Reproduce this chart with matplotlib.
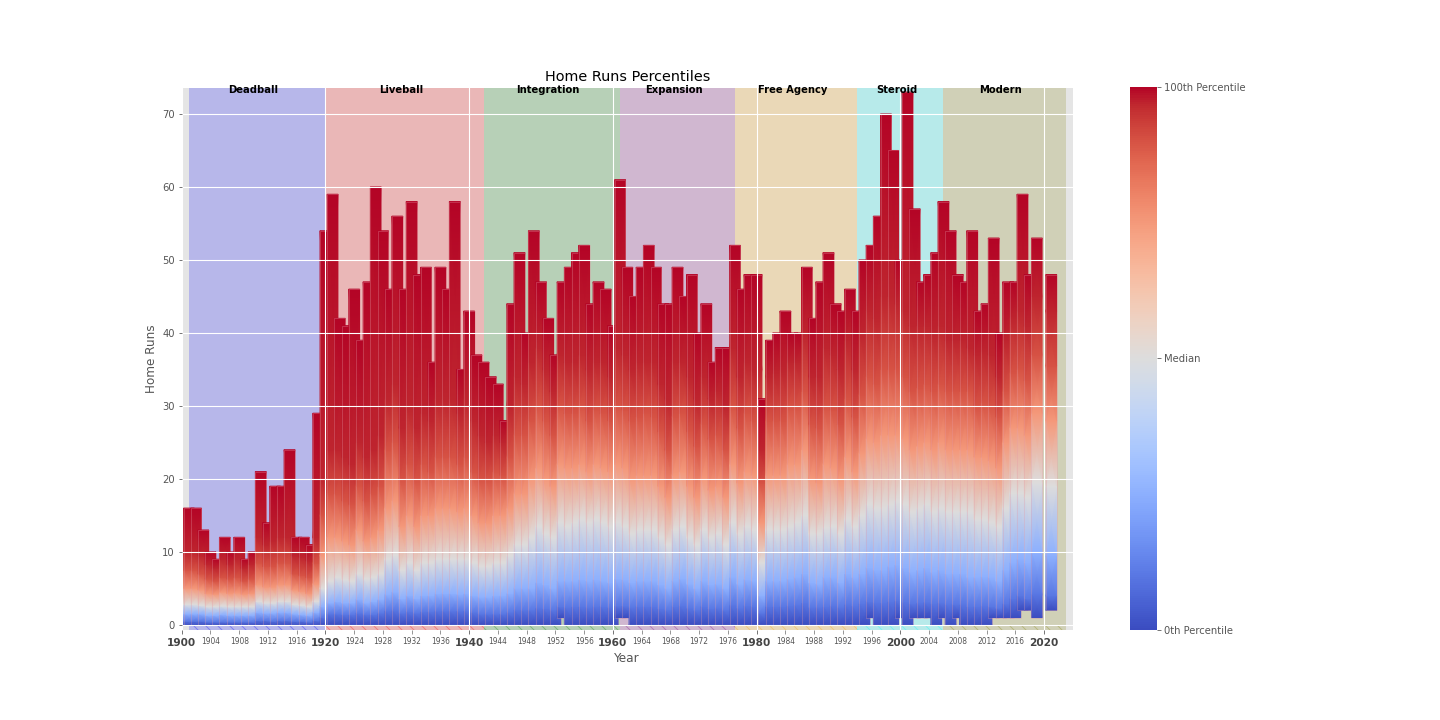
import numpy as np
import matplotlib
matplotlib.use("Agg")
import matplotlib.pyplot as plt
from matplotlib.colors import Normalize, to_rgba
from matplotlib.cm import ScalarMappable

plt.style.use("ggplot")

# seasons shown (2020 is missing in the chart)
years = list(range(1901, 2020)) + [2021]

# percentile levels drawn for every season
levels = [0, 10, 25, 50, 75, 90, 97, 100]

p100 = [16, 16, 13, 10, 9, 12, 10, 12, 9, 10, 21, 14, 19, 19, 24, 12, 12, 11, 29, 54,
        59, 42, 41, 46, 39, 47, 60, 54, 46, 56, 46, 58, 48, 49, 36, 49, 46, 58, 35, 43,
        37, 36, 34, 33, 28, 44, 51, 40, 54, 47, 42, 37, 47, 49, 51, 52, 44, 47, 46, 41,
        61, 49, 45, 49, 52, 49, 44, 44, 49, 45, 48, 40, 44, 36, 38, 38, 52, 46, 48, 48,
        31, 39, 40, 43, 40, 40, 49, 42, 47, 51, 44, 43, 46, 43, 50, 52, 56, 70, 65, 50,
        73, 57, 47, 48, 51, 58, 54, 48, 47, 54, 43, 44, 53, 40, 47, 47, 59, 48, 53, 48]

p97 = [10, 10, 9.5, 8.3, 7.8, 9, 8.3, 9, 7.8, 8.3, 12, 11, 11.5, 12, 12, 9.5, 9.3, 8.8, 12, 20,
       24, 24, 23, 22, 25, 23, 24, 26, 31, 33, 27, 30, 27, 29, 28, 31, 31, 31, 29, 31,
       28, 26, 25, 26, 25, 30, 34, 33, 36, 38, 35, 32, 37, 36, 36, 37, 35, 36, 36, 34,
       38, 37, 35, 36, 36, 36, 33, 31, 36, 36, 34, 31, 34, 31, 32, 30, 38, 34, 36, 35,
       24, 34, 34.5, 35, 36, 36, 40, 34, 34, 38, 37, 35, 39, 35, 40, 43, 42, 45, 45, 44,
       43, 41, 41, 41, 40, 41, 39, 39, 39, 38, 37, 37.5, 37, 34, 39, 42, 43, 41, 45, 43]

p90 = [7.5, 7.5, 7, 6.3, 6, 6.5, 6.3, 6.5, 6, 6.3, 8.5, 8, 8, 8.5, 8.5, 7, 6.8, 6.5, 8.5, 15,
       18, 18, 17, 16.5, 19, 17, 18, 19, 24, 25, 20, 22, 20, 22, 21, 23, 23, 23, 22, 23,
       21, 20, 20, 21, 20.5, 23, 26, 26, 28, 30, 28, 26, 30, 29, 29, 30, 28, 29.5, 29, 28,
       30, 29.5, 28, 28.5, 29, 28.5, 26.5, 24, 28.5, 29, 26.5, 24.5, 27.5, 25.5, 26, 24, 30, 27, 29, 28,
       19.5, 28, 28, 28, 30, 30, 32, 27.5, 27, 30, 29.5, 27.5, 31, 28.5, 31.5, 34, 33, 35, 35, 35,
       34, 32, 32.5, 33, 32, 33, 32, 32, 32, 32, 30, 30.5, 30, 28.5, 32, 34.5, 35, 33.5, 37, 35.5]

p75 = [5, 5, 4.8, 4.3, 4.2, 4.5, 4.3, 4.4, 4.2, 4.3, 5.5, 5.2, 5.2, 5.5, 5.5, 4.8, 4.6, 4.3, 5.6, 9.5,
       12, 12, 11.5, 11, 13, 11.5, 12, 13, 16, 17, 13.5, 15, 13.5, 15, 15, 16, 16, 16, 15.5, 16,
       15, 14, 14, 15, 15, 16, 18, 18, 20, 21.5, 20, 19, 22, 21.5, 21.5, 22, 21, 22, 21.5, 21,
       22, 21.5, 20, 20.5, 20.5, 20.5, 19, 17.5, 20.5, 21, 19, 17.5, 20, 18.5, 19, 17.5, 22, 19.5, 21, 20.5,
       14, 20.5, 20.5, 20.5, 22, 22, 24, 20, 19.5, 22, 21.5, 20, 23, 21, 23.5, 25.5, 25, 26, 26, 26,
       25.5, 24, 24.5, 25, 24, 25, 24, 24, 24, 24, 23, 23, 22.5, 21.5, 25, 27, 27, 26, 29, 28]

p50 = [2.8, 2.8, 2.7, 2.5, 2.5, 2.6, 2.5, 2.5, 2.5, 2.5, 3.2, 3, 3, 3.2, 3.2, 2.8, 2.7, 2.5, 3.2, 5,
       6, 6.5, 6.2, 6, 7, 6.3, 6.5, 7, 9, 9.5, 7.5, 8.5, 7.5, 8.5, 8.5, 9, 9, 9, 9, 9,
       8.5, 8, 8, 8.5, 8.5, 9.5, 11, 11, 12, 13.5, 12.5, 12, 14, 13.5, 14, 14.5, 14, 14.5, 14, 13.5,
       14, 13.5, 12.5, 13, 13, 13, 12, 11, 13, 13.5, 12, 11, 13, 12, 12.5, 11, 14, 12.5, 13.5, 13,
       8.5, 13, 13, 13, 13.5, 14, 15, 12.5, 12.5, 13.3, 13.5, 12.5, 14.5, 13.5, 15, 16.5, 16, 16, 16.5, 17,
       16.5, 15.5, 16, 16.5, 15.5, 16, 15.5, 15.5, 15.5, 15.5, 14.5, 14.5, 14, 13.5, 16, 18, 18, 17.5, 19.5, 19]

p25 = [1.5, 1.5, 1.5, 1.3, 1.3, 1.4, 1.3, 1.3, 1.3, 1.3, 1.7, 1.6, 1.6, 1.7, 1.7, 1.5, 1.4, 1.3, 1.7, 2.5,
       3, 3.2, 3, 3, 3.5, 3, 3.2, 3.5, 4.2, 4.5, 3.6, 4, 3.6, 4, 4, 4.3, 4.3, 4.3, 4.2, 4.3,
       4, 3.8, 3.8, 4, 4, 4.3, 5, 5, 5, 5.8, 5.5, 5, 6, 6, 6, 6.2, 6, 6.2, 6, 5.8,
       6.3, 6.2, 5.8, 6, 6, 6, 5.5, 5, 6, 6.3, 5.6, 5, 6, 5.5, 5.6, 5, 6.5, 5.6, 6.2, 6,
       4, 6, 6, 6, 6.3, 6.5, 7, 5.8, 5.6, 6.5, 6.5, 5.8, 7, 6.5, 7, 7.8, 7.5, 7.5, 8, 8.2,
       7.8, 7.2, 7.5, 7.8, 7.2, 7.5, 7, 7, 7, 6.5, 6.5, 6.6, 6.5, 6, 7.5, 8.5, 9, 8.5, 10, 9.5]

p10 = [0.5, 0.5, 0.5, 0.4, 0.4, 0.4, 0.4, 0.4, 0.4, 0.4, 0.6, 0.6, 0.5, 0.6, 0.6, 0.5, 0.5, 0.4, 0.6, 1,
       1.5, 1.5, 1.4, 1.4, 1.6, 1.4, 1.4, 1.6, 1.9, 2, 1.6, 1.8, 1.6, 1.8, 1.8, 1.9, 1.9, 1.9, 1.9, 1.9,
       1.7, 1.5, 1.5, 1.5, 1.5, 1.7, 2, 2, 2, 2.3, 2.2, 2, 2.5, 2.4, 2.5, 2.5, 2.4, 2.5, 2.5, 2.4,
       2.6, 2.6, 2.4, 2.5, 2.5, 2.5, 2.2, 2, 2.5, 2.6, 2.3, 2, 2.5, 2.2, 2.3, 2, 2.7, 2.3, 2.6, 2.5,
       1.6, 2.5, 2.5, 2.5, 2.6, 2.7, 3, 2.4, 2.4, 2.5, 2.6, 2.4, 2.8, 2.6, 2.9, 3.2, 3, 3, 3.2, 3.3,
       3.1, 2.9, 3, 3.1, 2.9, 3, 2.8, 2.8, 2.8, 2.5, 2.5, 2.6, 2.5, 2.3, 2.9, 3.6, 4, 3.6, 4.2, 4]

p0 = [0] * 120
for yr, low in [(1953, 1), (1961, 1), (1962, 1), (1996, 1), (2000, 1), (2002, 1), (2003, 1),
                (2004, 1), (2006, 1), (2008, 1), (2013, 1), (2014, 1), (2015, 1), (2016, 1),
                (2017, 2), (2018, 2), (2019, 1), (2021, 2)]:
    p0[years.index(yr)] = low

era_names = ["Deadball", "Liveball", "Integration", "Expansion", "Free Agency", "Steroid", "Modern"]
era_start = [1901, 1920, 1942, 1961, 1977, 1994, 2006]
era_end = [1920, 1942, 1961, 1977, 1994, 2006, 2023]
era_colors = ["blue", "red", "green", "purple", "orange", "cyan", "olive"]

fig = plt.figure(figsize=(20, 10), dpi=72)
ax = fig.add_axes([0.1262, 0.125, 0.6188, 0.7542])
cax = fig.add_axes([0.7847, 0.125, 0.0188, 0.7542])

ylo, yhi = -0.7, 73.7
for s, e, c in zip(era_start, era_end, era_colors):
    ax.axvspan(s, e, color=c, alpha=0.2, lw=0, zorder=0)
    ax.axvspan(s, e, ymin=0, ymax=(0 - ylo) / (yhi - ylo), facecolor="none",
               edgecolor=to_rgba(c, 0.3), hatch="\\\\", lw=0, zorder=0.5)

table = np.array([p0, p10, p25, p50, p75, p90, p97, p100], dtype=float)
lv = np.array(levels, dtype=float)
for i, yr in enumerate(years):
    vals = table[:, i]
    X = np.array([[yr - 0.75, yr + 0.75]] * len(levels))
    Y = np.column_stack([vals, vals])
    C = np.column_stack([lv, lv])
    ax.pcolormesh(X, Y, C, shading="gouraud", cmap="coolwarm", vmin=0, vmax=100, zorder=1)
    ax.bar(yr, vals[-1] - vals[0], bottom=vals[0], width=1.5, fill=False,
           edgecolor=(0.9, 0.6, 0.65, 0.5), lw=0.6, zorder=1)

for n, s, e in zip(era_names, era_start, era_end):
    ax.text((s + e) / 2 - 0.5, 73.3, n, ha="center", va="center",
            fontsize=10, fontweight="bold", color="black", zorder=5)

ax.set_xlim(1900, 2024)
ax.set_ylim(ylo, yhi)
ax.set_axisbelow(False)
ax.grid(True, color="white", lw=1.1)

major = list(range(1900, 2021, 20))
minor = [y for y in range(1904, 2020, 4) if y % 20 != 0]
ax.set_xticks(major)
ax.set_xticklabels([str(m) for m in major], fontsize=10.5, fontweight="bold", color="#444444")
ax.set_xticks(minor, minor=True)
ax.set_xticklabels([str(m) for m in minor], minor=True, fontsize=7.5, color="#555555")
ax.tick_params(axis="x", which="both", length=4, color="#555555")
ax.set_yticks(range(0, 71, 10))
ax.tick_params(axis="y", labelsize=10, labelcolor="#555555")

ax.set_xlabel("Year", fontsize=12, color="#555555")
ax.set_ylabel("Home Runs", fontsize=12, color="#555555")
ax.set_title("Home Runs Percentiles", fontsize=14.4, color="black")

sm = ScalarMappable(norm=Normalize(0, 100), cmap="coolwarm")
cb = fig.colorbar(sm, cax=cax, ticks=[0, 50, 100])
cb.ax.set_yticklabels(["0th Percentile", "Median", "100th Percentile"])
cb.ax.tick_params(labelsize=10, labelcolor="#555555", color="#555555")
cb.outline.set_visible(False)

fig.savefig("out.png", dpi=72)
